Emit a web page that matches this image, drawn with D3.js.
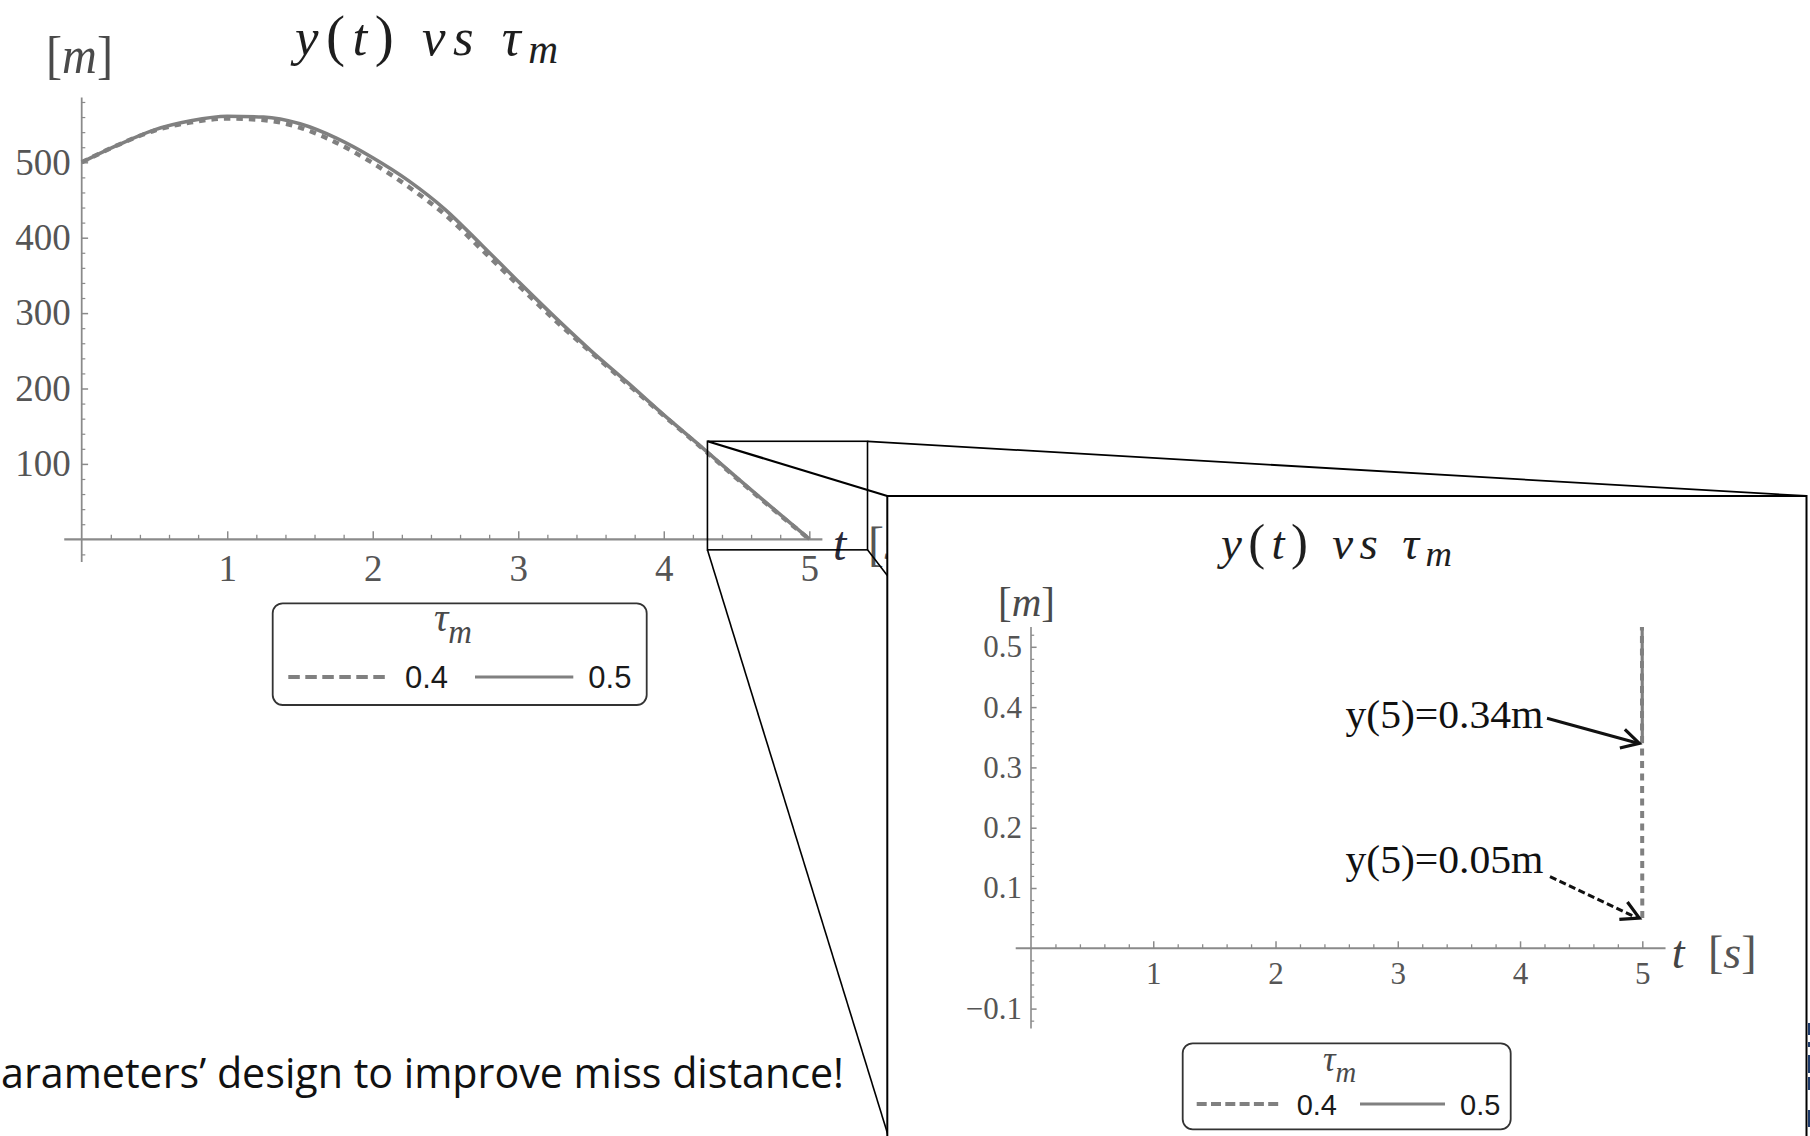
<!DOCTYPE html>
<html>
<head>
<meta charset="utf-8">
<script src="https://cdn.jsdelivr.net/npm/d3@7"></script>
<style>
  html, body { margin: 0; padding: 0; background: #fff; }
  svg { display: block; }
</style>
</head>
<body>
<script>
// ---- data: missile height y(t) for two time constants tau_m ----
const tValues = [0, 0.25, 0.5, 0.75, 1.0, 1.25, 1.5, 1.75, 2.0, 2.25, 2.5,
                 2.75, 3.0, 3.25, 3.5, 3.75, 4.0, 4.25, 4.5, 4.75, 5.0];
const yTau04 = [500, 523, 542, 553, 558, 556, 546, 526, 499, 467, 430,
                384, 337, 291, 248, 206, 164, 123, 81, 40, 0.05];
const yTau05 = [500, 523, 543, 555, 561, 560, 551, 532, 506, 475, 437,
                390, 342, 295, 250, 208, 165, 124, 82, 41, 0.34];
const tauLabels = ["0.4", "0.5"];

const mainXTicks = [1, 2, 3, 4, 5];
const mainYTicks = [100, 200, 300, 400, 500];
const insetXTicks = [1, 2, 3, 4, 5];
const insetYTicks = [-0.1, 0.1, 0.2, 0.3, 0.4, 0.5];

const captionText = "arameters\u2019 design to improve miss distance!";

// ---- styles ----
const curveColor = "#808080";
const axisColor = "#8a8a8a";
const tickFont = "'Liberation Serif', 'Times New Roman', serif";
const sansFont = "'Liberation Sans', Arial, sans-serif";

const svg = d3.select("body").append("svg")
  .attr("width", 1810).attr("height", 1136);
svg.append("rect").attr("width", 1810).attr("height", 1136).attr("fill", "#fff");

const series = [
  { label: tauLabels[0], values: yTau04, dash: true },
  { label: tauLabels[1], values: yTau05, dash: false }
];

// math-style title "y(t) vs tau_m"
function mathTitle(g, x, baseline, size, width) {
  const t = g.append("text")
    .attr("x", x).attr("y", baseline)
    .attr("font-family", tickFont).attr("font-size", size)
    .attr("fill", "#1e1e1e")
    .attr("textLength", width).attr("lengthAdjust", "spacing");
  t.append("tspan").attr("font-style", "italic").text("y");
  t.append("tspan").attr("font-size", size * 1.08).text("(");
  t.append("tspan").attr("font-style", "italic").text("t");
  t.append("tspan").attr("font-size", size * 1.08).text(")");
  t.append("tspan").attr("font-style", "italic").text(" vs ");
  t.append("tspan").attr("font-style", "italic").text("\u03c4");
  t.append("tspan").attr("font-style", "italic").attr("font-size", size * 0.78)
    .attr("dy", size * 0.15).text("m");
}

function unitLabel(g, x, baseline, size, width, unit, color) {
  const t = g.append("text")
    .attr("x", x).attr("y", baseline)
    .attr("font-family", tickFont).attr("font-size", size)
    .attr("fill", color);
  if (width) t.attr("textLength", width).attr("lengthAdjust", "spacingAndGlyphs");
  t.append("tspan").text("[");
  t.append("tspan").attr("font-style", "italic").text(unit);
  t.append("tspan").text("]");
}

function styleAxis(sel, fontSize, tickWidth) {
  sel.select(".domain").remove();
  sel.selectAll(".tick line").attr("stroke", axisColor).attr("stroke-width", tickWidth);
  sel.selectAll(".tick text")
    .attr("font-family", tickFont).attr("font-size", fontSize).attr("fill", "#555");
}

// axes in Mathematica style: ticks pointing into the plot, labels outside
function drawAxes(g, x, y, o) {
  g.append("line")
    .attr("x1", x(o.xExtent[0])).attr("x2", x(o.xExtent[1]))
    .attr("y1", y(0)).attr("y2", y(0))
    .attr("stroke", axisColor).attr("stroke-width", o.axisWidth);
  g.append("line")
    .attr("x1", x(0)).attr("x2", x(0))
    .attr("y1", y(o.yExtent[0])).attr("y2", y(o.yExtent[1]))
    .attr("stroke", axisColor).attr("stroke-width", o.axisWidth * 0.8);

  g.append("g").attr("transform", `translate(0,${y(0)})`)
    .call(d3.axisBottom(x).tickValues(o.xMinor).tickSizeInner(-o.minorLen).tickSizeOuter(0).tickFormat(""))
    .call(s => styleAxis(s, o.fontSize, 1.3));
  g.append("g").attr("transform", `translate(0,${y(0)})`)
    .call(d3.axisBottom(x).tickValues(o.xTicks).tickSizeInner(-o.majorLen).tickSizeOuter(0)
      .tickPadding(o.xPad).tickFormat(d3.format("d")))
    .call(s => styleAxis(s, o.fontSize, 1.5));

  g.append("g").attr("transform", `translate(${x(0)},0)`)
    .call(d3.axisLeft(y).tickValues(o.yMinor).tickSizeInner(-o.minorLen * 0.8).tickSizeOuter(0).tickFormat(""))
    .call(s => styleAxis(s, o.fontSize, 1.2));
  g.append("g").attr("transform", `translate(${x(0)},0)`)
    .call(d3.axisLeft(y).tickValues(o.yTicks).tickSizeInner(-o.majorLen * 0.8).tickSizeOuter(0)
      .tickPadding(o.yPad).tickFormat(o.yFormat))
    .call(s => styleAxis(s, o.fontSize, 1.5));
}

function drawCurves(g, x, y, width, dash, clipId) {
  const line = d3.line()
    .x((d, i) => x(tValues[i]))
    .y(d => y(d))
    .curve(d3.curveMonotoneX);
  const cg = g.append("g");
  if (clipId) cg.attr("clip-path", `url(#${clipId})`);
  [series[1], series[0]].forEach(s => {
    cg.append("path")
      .attr("d", line(s.values))
      .attr("fill", "none")
      .attr("stroke", curveColor)
      .attr("stroke-width", s.dash ? width + 0.8 : width)
      .attr("stroke-dasharray", s.dash ? dash : null);
  });
}

function legend(g, x0, y0, w, h, o) {
  g.append("rect")
    .attr("x", x0).attr("y", y0).attr("width", w).attr("height", h)
    .attr("rx", 10).attr("ry", 10)
    .attr("fill", "#fff").attr("stroke", "#333").attr("stroke-width", 1.8);
  const tt = g.append("text")
    .attr("x", o.titleX).attr("y", o.titleY)
    .attr("font-family", tickFont).attr("font-style", "italic")
    .attr("font-size", o.titleSize).attr("fill", "#4a4a4a");
  tt.append("tspan").text("\u03c4");
  tt.append("tspan").attr("font-size", o.titleSize * 0.82).attr("dy", o.titleSize * 0.3).text("m");

  series.forEach((s, i) => {
    const it = o.items[i];
    g.append("line")
      .attr("x1", it.x1).attr("x2", it.x2).attr("y1", o.rowY).attr("y2", o.rowY)
      .attr("stroke", curveColor)
      .attr("stroke-width", s.dash ? 4 : 2.8)
      .attr("stroke-dasharray", s.dash ? o.dash : null);
    g.append("text")
      .attr("x", it.tx).attr("y", o.textY)
      .attr("font-family", sansFont).attr("font-size", o.fontSize)
      .attr("fill", "#1a1a1a")
      .text(s.label);
  });
}

function arrow(g, x1, y1, x2, y2, dashed) {
  g.append("line")
    .attr("x1", x1).attr("y1", y1).attr("x2", x2 - 3).attr("y2", y2 - 0.5)
    .attr("stroke", "#111").attr("stroke-width", 3)
    .attr("stroke-dasharray", dashed ? "7,3.5" : null);
  const a = Math.atan2(y2 - y1, x2 - x1);
  const L = 20, spread = 0.5;
  const w1 = [x2 - L * Math.cos(a - spread), y2 - L * Math.sin(a - spread)];
  const w2 = [x2 - L * Math.cos(a + spread), y2 - L * Math.sin(a + spread)];
  g.append("path")
    .attr("d", `M${w1[0]},${w1[1]}L${x2},${y2}L${w2[0]},${w2[1]}`)
    .attr("fill", "none").attr("stroke", "#111").attr("stroke-width", 3.2)
    .attr("stroke-linejoin", "miter");
}

// ================= main chart =================
const main = svg.append("g");
const xMain = d3.scaleLinear().domain([0, 5]).range([81.7, 809.3]);
const yMain = d3.scaleLinear().domain([0, 500]).range([539.3, 162.3]);

mathTitle(main, 295, 55, 53, 263);
unitLabel(main, 46, 73, 52, 67, "m", "#4a4a4a");

drawAxes(main, xMain, yMain, {
  xExtent: [-0.12, 5.09], yExtent: [-30, 586],
  xTicks: mainXTicks, yTicks: mainYTicks,
  xMinor: d3.range(1, 26).map(i => +(i * 0.2).toFixed(2)).filter(v => Math.abs(v - Math.round(v)) > 1e-6),
  yMinor: d3.range(-1, 30).map(i => i * 20).filter(v => v % 100 !== 0),
  majorLen: 8, minorLen: 4.5, axisWidth: 2.2,
  fontSize: 37, xPad: 15, yPad: 11,
  yFormat: d3.format("d")
});

drawCurves(main, xMain, yMain, 3.6, "6.5,6", null);

// "t [s]" axis label (partly covered by the magnified view)
main.append("text").attr("x", 833).attr("y", 560)
  .attr("font-family", tickFont).attr("font-style", "italic")
  .attr("font-size", 48).attr("fill", "#2a2a3a").text("t");
unitLabel(main, 868, 560, 48, null, "s", "#555");

legend(main, 272.7, 603.3, 374, 101.7, {
  titleX: 434, titleY: 631, titleSize: 40,
  rowY: 677, textY: 688.3, fontSize: 31, dash: "11.5,5.5",
  items: [{ x1: 288.3, x2: 388.3, tx: 405 }, { x1: 475, x2: 573.3, tx: 588.3 }]
});

// ================= zoom frame and projection lines =================
const zoomBox = { x0: xMain(4.3), x1: xMain(5.4), y0: yMain(130), y1: yMain(-14) };
const inset = { x0: 887.3, y0: 496, x1: 1806.5, y1: 1200 };
const frame = svg.append("g").attr("fill", "none").attr("stroke", "#000");
frame.append("rect")
  .attr("x", zoomBox.x0).attr("y", zoomBox.y0)
  .attr("width", zoomBox.x1 - zoomBox.x0).attr("height", zoomBox.y1 - zoomBox.y0)
  .attr("stroke-width", 1.6);
frame.append("line").attr("x1", zoomBox.x0).attr("y1", zoomBox.y0)
  .attr("x2", inset.x0).attr("y2", inset.y0).attr("stroke-width", 2.2);
frame.append("line").attr("x1", zoomBox.x1).attr("y1", zoomBox.y0)
  .attr("x2", inset.x1).attr("y2", inset.y0).attr("stroke-width", 1.8);
frame.append("line").attr("x1", zoomBox.x0).attr("y1", zoomBox.y1)
  .attr("x2", inset.x0 + 1).attr("y2", 1136).attr("stroke-width", 1.6);
frame.append("line").attr("x1", zoomBox.x1).attr("y1", zoomBox.y1)
  .attr("x2", zoomBox.x1 + 80).attr("y2", zoomBox.y1 + 104).attr("stroke-width", 1.6);

// ================= magnified view =================
const ins = svg.append("g");
ins.append("rect")
  .attr("x", inset.x0).attr("y", inset.y0)
  .attr("width", inset.x1 - inset.x0).attr("height", inset.y1 - inset.y0)
  .attr("fill", "#fff").attr("stroke", "#000").attr("stroke-width", 2);

const xIn = d3.scaleLinear().domain([0, 5]).range([1031, 1642.3]);
const yIn = d3.scaleLinear().domain([0, 0.5]).range([948.3, 646.8]);

mathTitle(ins, 1221, 559, 47, 231);
unitLabel(ins, 998, 616, 42, 57, "m", "#4a4a4a");

drawAxes(ins, xIn, yIn, {
  xExtent: [-0.125, 5.19], yExtent: [-0.133, 0.533],
  xTicks: insetXTicks, yTicks: insetYTicks,
  xMinor: d3.range(1, 26).map(i => +(i * 0.2).toFixed(2)).filter(v => Math.abs(v - Math.round(v)) > 1e-6),
  yMinor: d3.range(-6, 27).map(i => +(i * 0.02).toFixed(2)).filter(v => Math.abs(v * 10 - Math.round(v * 10)) > 1e-6),
  majorLen: 7, minorLen: 4, axisWidth: 2,
  fontSize: 31, xPad: 14, yPad: 9,
  yFormat: d => (d < 0 ? "\u2212" : "") + d3.format(".1f")(Math.abs(d))
});

const defs = svg.append("defs");
defs.append("clipPath").attr("id", "insetClip").append("rect")
  .attr("x", xIn(-0.125)).attr("y", yIn(0.533))
  .attr("width", xIn(5.19) - xIn(-0.125)).attr("height", yIn(-0.133) - yIn(0.533));
drawCurves(ins, xIn, yIn, 3.2, "7,5.5", "insetClip");

ins.append("text").attr("x", 1671.7).attr("y", 968)
  .attr("font-family", tickFont).attr("font-style", "italic")
  .attr("font-size", 46).attr("fill", "#444").text("t");
unitLabel(ins, 1708, 968, 46, null, "s", "#555");

// miss-distance annotations, read from the end of each series
const endIdx = tValues.length - 1;
const annot = ins.append("g");
annot.append("text").attr("x", 1345.5).attr("y", 728)
  .attr("font-family", tickFont).attr("font-size", 39).attr("fill", "#111")
  .attr("textLength", 198).attr("lengthAdjust", "spacingAndGlyphs")
  .text(`y(${tValues[endIdx]})=${yTau05[endIdx]}m`);
arrow(annot, 1547, 718.3, xIn(tValues[endIdx]) - 3, yIn(yTau05[endIdx]), false);

annot.append("text").attr("x", 1345.5).attr("y", 873)
  .attr("font-family", tickFont).attr("font-size", 39).attr("fill", "#111")
  .attr("textLength", 198).attr("lengthAdjust", "spacingAndGlyphs")
  .text(`y(${tValues[endIdx]})=${yTau04[endIdx]}m`);
arrow(annot, 1550, 876.7, xIn(tValues[endIdx]) - 3, yIn(yTau04[endIdx]), true);

legend(ins, 1182.7, 1043.3, 328, 86, {
  titleX: 1323, titleY: 1071, titleSize: 35,
  rowY: 1104, textY: 1115, fontSize: 29, dash: "10,4.3",
  items: [{ x1: 1196.7, x2: 1281.7, tx: 1296.7 }, { x1: 1360, x2: 1445, tx: 1460 }]
});

// ================= slide caption and edge marks =================
svg.append("text").attr("x", 1).attr("y", 1088)
  .attr("font-family", "'Open Sans', 'Noto Sans', sans-serif").attr("font-size", 42)
  .attr("fill", "#111")
  .attr("textLength", 843).attr("lengthAdjust", "spacingAndGlyphs")
  .text(captionText);

const edgeMarks = [[1023, 1035], [1042, 1047], [1055, 1073], [1077, 1090], [1110, 1127]];
svg.append("g").selectAll("rect").data(edgeMarks).join("rect")
  .attr("x", 1808).attr("width", 2)
  .attr("y", d => d[0]).attr("height", d => d[1] - d[0])
  .attr("fill", "#1d3a6b");
</script>
</body>
</html>
